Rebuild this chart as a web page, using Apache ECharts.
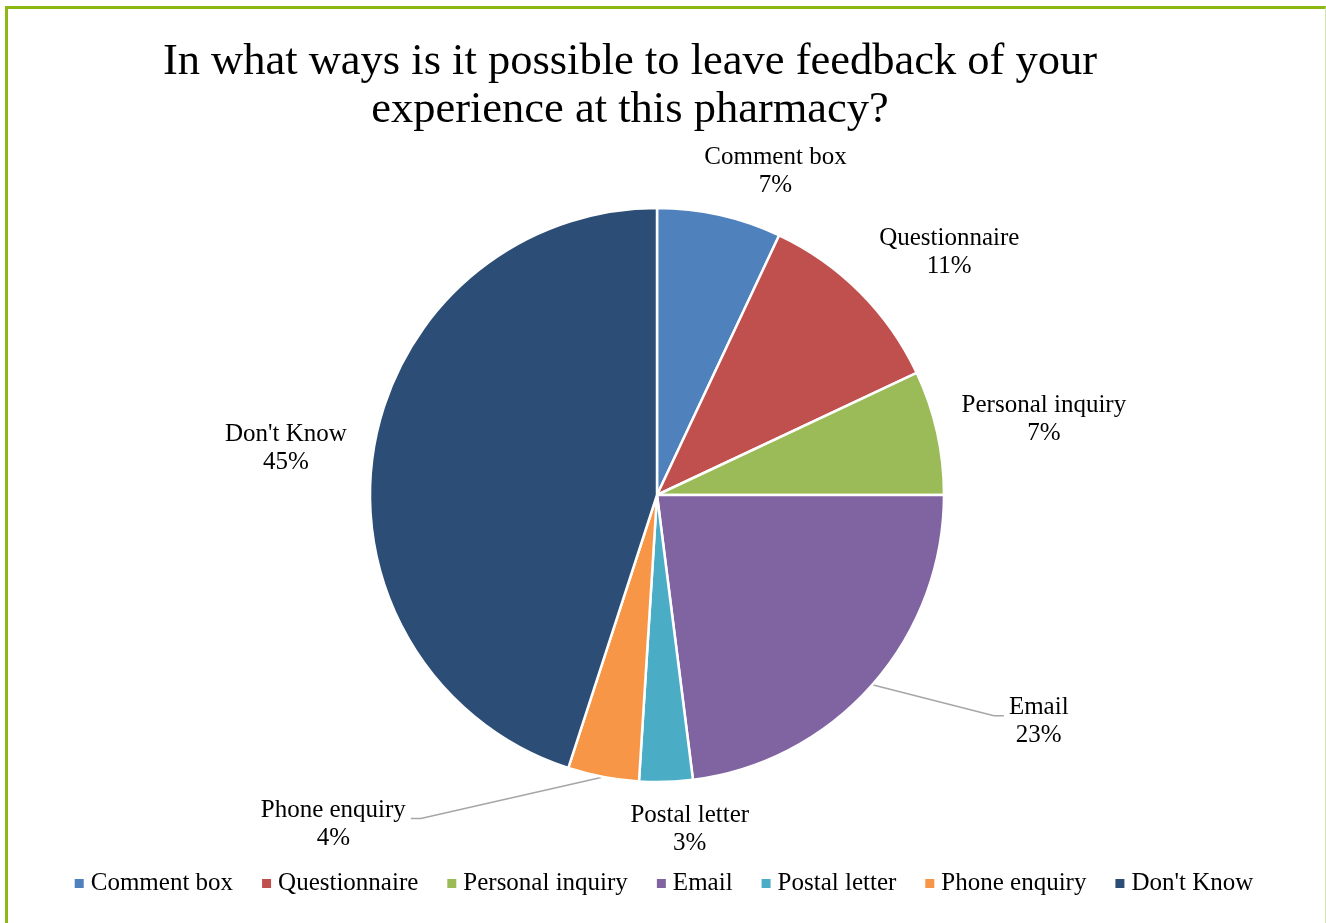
<!DOCTYPE html>
<html>
<head>
<meta charset="utf-8">
<script src="https://cdn.jsdelivr.net/npm/echarts@6/dist/echarts.min.js"></script>
<style>
  html, body { margin: 0; padding: 0; background: #fff; overflow: hidden; }
  #frame {
    position: absolute; left: 5px; top: 6px; width: 1321px; height: 960px;
    box-sizing: border-box;
    border-left: 3px solid #8DB814; border-top: 3px solid #8DB814; border-right: 1px solid #D3E5A2;
  }
  #chart { position: absolute; left: 0; top: 0; width: 1326px; height: 923px; }
</style>
</head>
<body>
<div id="frame"></div>
<div id="chart"></div>
<script>
// Survey answers (percent of respondents)
const categories = ['Comment box', 'Questionnaire', 'Personal inquiry', 'Email', 'Postal letter', 'Phone enquiry', "Don't Know"];
const shares = [7, 11, 7, 23, 3, 4, 45];

const palette = ['#4F81BD', '#C0504D', '#9BBB59', '#8064A2', '#4BACC6', '#F79646', '#2C4D75'];
const FONT = "'Liberation Serif', 'DejaVu Serif', serif";

// Pie geometry
const CX = 657, CY = 495, R = 287;
const LABEL_GAP = 21;
// Label placement tweaks: [angle shift in degrees, extra distance from the rim]
const labelShift = {
  'Comment box': [7.5, -14],
  'Questionnaire': [5.3, 0],
  'Personal inquiry': [1.6, 0],
  'Email': [-10.7, 96],
  'Postal letter': [-3.8, -6],
  'Phone enquiry': [33.7, 83],
  "Don't Know": [-1.8, 2]
};
const calloutNames = ['Email', 'Phone enquiry'];

const total = shares.reduce((a, b) => a + b, 0);
const midAngles = [];
(function () {
  let acc = 0;
  shares.forEach(v => { midAngles.push((acc + v / 2) / total * Math.PI * 2); acc += v; });
})();

function placeLabel(p) {
  const i = p.dataIndex;
  const name = categories[i];
  const shift = labelShift[name] || [0, 0];
  const mid = midAngles[i];
  const a = mid + shift[0] * Math.PI / 180;
  const ux = Math.sin(a), uy = -Math.cos(a);
  const w = p.labelRect.width, h = p.labelRect.height;
  const reach = Math.abs(ux) * w / 2 + Math.abs(uy) * h / 2;
  const d = R + LABEL_GAP + shift[1] + reach;
  const x = CX + ux * d, y = CY + uy * d;
  const out = { x: x, y: y, align: 'center', verticalAlign: 'middle' };
  if (calloutNames.indexOf(name) >= 0) {
    const sx = CX + Math.sin(mid) * R, sy = CY - Math.cos(mid) * R;
    const side = ux > 0 ? -1 : 1;
    const ex = x + side * (w / 2 + 5), ey = y - 6;
    out.labelLinePoints = [[sx, sy], [ex + side * 10, ey], [ex, ey]];
  }
  return out;
}

const chart = echarts.init(document.getElementById('chart'), null, { renderer: 'canvas' });
chart.setOption({
  animation: false,
  color: palette,
  title: {
    text: 'In what ways is it possible to leave feedback of your\nexperience at this pharmacy?',
    left: 630, top: 38, textAlign: 'center', padding: 0,
    textStyle: { fontFamily: FONT, fontSize: 44.5, lineHeight: 48, fontWeight: 'normal', color: '#000' }
  },
  legend: {
    data: categories,
    left: 'center', top: 866,
    icon: 'rect', itemWidth: 11, itemHeight: 11, itemGap: 27,
    textStyle: { fontFamily: FONT, fontSize: 25, color: '#000', padding: [0, 0, 0, 1] }
  },
  series: [{
    type: 'pie',
    center: [CX, CY],
    radius: R,
    startAngle: 90,
    clockwise: true,
    avoidLabelOverlap: false,
    itemStyle: { borderColor: '#fff', borderWidth: 2.5 },
    emphasis: { disabled: true },
    label: {
      show: true, position: 'outside', formatter: '{b}\n{c}%',
      fontFamily: FONT, fontSize: 25, lineHeight: 28, color: '#000'
    },
    labelLine: { show: false, lineStyle: { color: '#A6A6A6', width: 1.5 } },
    labelLayout: placeLabel,
    data: categories.map((name, i) => ({
      name: name,
      value: shares[i],
      labelLine: { show: calloutNames.indexOf(name) >= 0 }
    }))
  }]
});
</script>
</body>
</html>
